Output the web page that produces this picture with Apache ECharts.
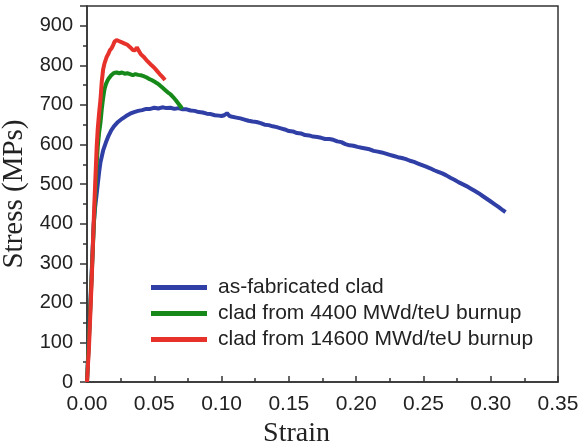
<!DOCTYPE html>
<html>
<head>
<meta charset="utf-8">
<script src="https://cdn.jsdelivr.net/npm/echarts@6/dist/echarts.min.js"></script>
<style>
  html, body { margin: 0; padding: 0; background: #fff; }
  #chart { width: 582px; height: 448px; }
</style>
</head>
<body>
<div id="chart"></div>
<script>
// Engineering stress-strain curves of clad tubes

const seriesNames = [
  'as-fabricated clad',
  'clad from 4400 MWd/teU burnup',
  'clad from 14600 MWd/teU burnup'
];

const xTicks = [0, 0.05, 0.10, 0.15, 0.20, 0.25, 0.30, 0.35];
const yTicks = [0, 100, 200, 300, 400, 500, 600, 700, 800, 900];

// as-fabricated clad
const strainFab = [
  0, 0.002, 0.004, 0.005, 0.006, 0.007, 0.008, 0.009, 0.010, 0.012, 0.014, 0.016, 0.018, 0.020,
  0.023, 0.026, 0.029, 0.032, 0.035, 0.038, 0.041, 0.044, 0.047, 0.050, 0.053, 0.056, 0.059,
  0.062, 0.065, 0.068, 0.071, 0.074, 0.077, 0.080, 0.083, 0.086, 0.089, 0.092, 0.095, 0.098,
  0.100, 0.102, 0.104, 0.106, 0.108, 0.111, 0.114, 0.117, 0.120, 0.123, 0.126, 0.129, 0.132,
  0.135, 0.138, 0.141, 0.144, 0.147, 0.150, 0.153, 0.156, 0.159, 0.162, 0.165, 0.168, 0.171,
  0.174, 0.177, 0.180, 0.183, 0.186, 0.189, 0.192, 0.195, 0.198, 0.201, 0.204, 0.207, 0.210,
  0.213, 0.216, 0.219, 0.222, 0.225, 0.228, 0.231, 0.234, 0.237, 0.240, 0.243, 0.246, 0.249,
  0.252, 0.255, 0.258, 0.261, 0.264, 0.267, 0.270, 0.273, 0.276, 0.279, 0.282, 0.285, 0.288,
  0.291, 0.294, 0.297, 0.300, 0.303, 0.306, 0.309, 0.311
];
const stressFab = [
  0, 160, 320, 400, 440, 470, 500, 530, 555, 585, 605, 622, 636, 646,
  657, 665, 672, 678, 682, 685, 687, 690, 690, 693, 691, 694, 692,
  693, 690, 692, 689, 689, 686, 685, 682, 681, 678, 677, 674, 673,
  672, 674, 679, 672, 670, 668, 666, 663, 660, 658, 657, 654, 650,
  649, 646, 644, 641, 638, 634, 633, 629, 628, 624, 623, 620, 619,
  617, 614, 614, 612, 608, 606, 601, 598, 597, 594, 592, 590, 588,
  584, 582, 580, 577, 574, 571, 568, 566, 563, 559, 556, 552, 548,
  544, 540, 535, 531, 527, 522, 516, 511, 505, 500, 495, 489, 483,
  477, 470, 463, 456, 449, 442, 434, 429
];

// clad from 4400 MWd/teU burnup
const strain4400 = [
  0, 0.002, 0.004, 0.005, 0.006, 0.007, 0.008, 0.009, 0.010, 0.011, 0.012, 0.013, 0.014, 0.015,
  0.016, 0.017, 0.018, 0.019, 0.020, 0.022, 0.024, 0.026, 0.028, 0.030, 0.032, 0.034, 0.036,
  0.038, 0.040, 0.042, 0.044, 0.046, 0.048, 0.050, 0.052, 0.054, 0.056, 0.058, 0.060, 0.062,
  0.064, 0.066, 0.068, 0.070, 0.0705
];
const stress4400 = [
  0, 150, 310, 390, 460, 540, 595, 630, 655, 690, 718, 740, 752, 760,
  766, 770, 775, 778, 781, 782, 780, 782, 779, 780, 778, 775, 778,
  776, 775, 773, 770, 766, 763, 759, 755, 750, 744, 738, 732, 727,
  720, 712, 703, 694, 690
];

// clad from 14600 MWd/teU burnup
const strain14600 = [
  0, 0.0015, 0.0035, 0.0052, 0.0072, 0.008, 0.009, 0.010, 0.011, 0.012, 0.013, 0.0147, 0.016,
  0.017, 0.0184, 0.0195, 0.0205, 0.022, 0.024, 0.026, 0.028, 0.030, 0.032, 0.034, 0.036, 0.037,
  0.038, 0.039, 0.040, 0.042, 0.044, 0.046, 0.048, 0.050, 0.052, 0.054, 0.056, 0.058
];
const stress14600 = [
  0, 90, 258, 427, 594, 640, 680, 713, 760, 790, 805, 822, 830,
  838, 844, 852, 860, 864, 861, 858, 855, 852, 846, 839, 838, 846,
  843, 834, 828, 822, 814, 807, 800, 794, 786, 778, 771, 763
];

const colors = ['#2f3fa6', '#17891a', '#e7312b'];

function pairs(xs, ys) {
  return xs.map((x, i) => [x, ys[i]]);
}

const sansFont = '"Liberation Sans", Arial, sans-serif';
const serifFont = '"Liberation Serif", "Times New Roman", serif';

const chart = echarts.init(document.getElementById('chart'), null, { renderer: 'canvas' });

const lineSeries = [
  pairs(strainFab, stressFab),
  pairs(strain4400, stress4400),
  pairs(strain14600, stress14600)
].map((data, i) => ({
  name: seriesNames[i],
  type: 'line',
  data: data,
  showSymbol: false,
  smooth: false,
  lineStyle: { width: 4, color: colors[i] },
  itemStyle: { color: colors[i] },
  z: 2 + i
}));

chart.setOption({
  animation: false,
  backgroundColor: '#ffffff',
  grid: {
    left: 87, right: 24, top: 6, bottom: 66,
    containLabel: false,
    outerBoundsMode: 'none',
    show: true, borderColor: '#333', borderWidth: 1.5, backgroundColor: 'transparent'
  },
  legend: {
    orient: 'vertical',
    left: 151,
    top: 277,
    padding: 0,
    itemWidth: 56,
    itemHeight: 5,
    itemGap: 5,
    icon: 'rect',
    data: seriesNames,
    textStyle: { fontFamily: sansFont, fontSize: 21, color: '#222', padding: [0, 0, 0, 6] }
  },
  xAxis: {
    type: 'value',
    min: 0,
    max: 0.35,
    interval: 0.05,
    name: 'Strain',
    nameLocation: 'middle',
    nameGap: 38,
    nameTextStyle: { fontFamily: serifFont, fontSize: 28, color: '#222', padding: [0, 52, 0, 0] },
    axisLine: { show: true, lineStyle: { color: '#333', width: 1.5 } },
    axisTick: { show: true, inside: true, length: 6, lineStyle: { color: '#333', width: 1.5 } },
    minorTick: { show: true, splitNumber: 2, length: 4, lineStyle: { color: '#333', width: 1.5 } },
    splitLine: { show: false },
    axisLabel: {
      fontFamily: sansFont, fontSize: 21, color: '#222', margin: 12,
      formatter: v => {
        const hit = xTicks.find(t => Math.abs(t - v) < 1e-9);
        return hit === undefined ? '' : hit.toFixed(2);
      }
    }
  },
  yAxis: {
    type: 'value',
    min: 0,
    max: 950,
    interval: 100,
    name: 'Stress (MPs)',
    nameLocation: 'middle',
    nameGap: 49,
    nameTextStyle: { fontFamily: serifFont, fontSize: 29, color: '#222' },
    axisLine: { show: true, lineStyle: { color: '#333', width: 1.5 } },
    axisTick: { show: true, inside: false, length: 7, lineStyle: { color: '#333', width: 1.5 } },
    minorTick: { show: true, splitNumber: 2, length: 4, lineStyle: { color: '#333', width: 1.5 } },
    splitLine: { show: false },
    axisLabel: {
      fontFamily: sansFont, fontSize: 20, color: '#222', margin: 14,
      formatter: v => (yTicks.indexOf(v) >= 0 ? String(v) : '')
    }
  },
  series: lineSeries
});
</script>
</body>
</html>
